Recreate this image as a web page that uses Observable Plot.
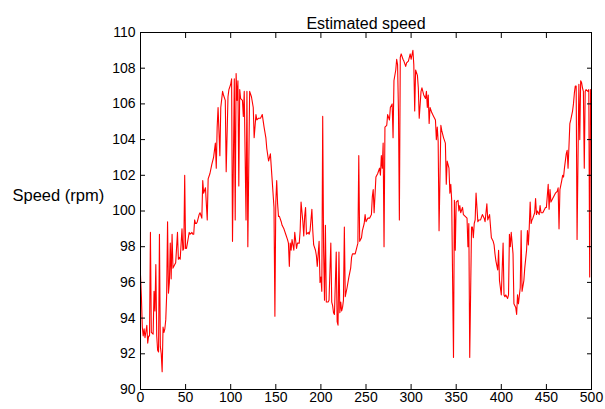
<!DOCTYPE html>
<html><head><meta charset="utf-8">
<script src="https://cdn.jsdelivr.net/npm/d3@7"></script>
<script src="https://cdn.jsdelivr.net/npm/@observablehq/plot@0.6"></script>
<style>html,body{margin:0;padding:0;background:#fff}</style>
</head><body><div id="chart"></div>
<script>
const sampleIdx = [
0,1,2,3,4,5,7,8,9,10,11,12,14,15,16,17,18,19,20,21,22,23,24,25,26,27,28,29,30,31,32,33,34,35,36,37,38,39,41,42,43,44,46,47,48,49,50,51,52,53,54,55,57,58,59,60,61,62,63,65,66,
68,69,70,72,74,75,77,79,81,83,84,85,86,88,89,91,92,94,95,97,98,100,101,102,104,105,106,107,108,109,110,111,113,114,115,117,118,119,121,123,125,126,128,129,131,133,
134,135,137,139,140,142,144,146,148,149,150,151,152,153,154,156,157,159,161,163,164,165,166,167,168,170,171,173,174,176,177,178,180,181,182,183,184,186,187,188,190,191,192,194,195,196,198,199,200,201,202,203,204,205,206,208,209,211,212,213,214,215,217,218,219,220,221,
222,223,224,225,226,227,229,231,233,234,235,238,239,241,242,243,245,246,248,249,250,252,254,256,257,258,259,
261,263,265,266,267,268,269,270,271,273,274,276,277,279,280,281,283,284,285,286,287,288,289,291,292,294,295,297,299,300,302,303,304,305,307,308,309,311,312,314,316,317,318,319,320,321,323,325,327,328,329,330,331,
333,334,336,338,339,340,342,343,344,345,347,348,349,350,352,353,354,355,357,358,360,362,363,364,365,367,368,369,370,371,372,374,375,377,379,381,382,384,385,387,389,391,392,393,394,396,397,398,
400,402,403,404,405,407,408,409,410,411,413,414,416,417,418,419,421,422,423,425,426,428,429,430,431,432,433,434,435,437,438,439,440,442,443,444,446,447,449,
450,452,453,454,455,456,457,459,460,462,463,464,465,467,468,469,470,472,473,474,475,476,477,479,480,481,482,483,484,486,487,488,489,490,491,492,493,494,496,497,498,499];
const speedRpm = [
96.4,95.2,93.5,93.0,93.4,92.9,93.6,92.6,93.0,93.0,98.8,93.2,93.1,95.5,94.4,97.0,93.0,92.2,92.1,98.7,92.4,92.0,91.0,93.5,93.2,93.4,93.9,95.3,99.4,95.4,96.0,98.2,96.2,98.7,96.8,96.9,97.0,97.1,98.8,97.3,97.4,97.3,99.0,97.8,97.9,102.0,97.9,97.9,98.2,98.5,98.8,98.7,98.8,98.7,98.7,99.5,99.3,99.3,99.4,99.8,99.9,
99.6,101.7,101.0,101.3,99.5,101.8,102.1,102.6,103.0,103.8,102.4,104.7,105.8,103.1,105.8,106.7,106.5,106.2,102.2,106.4,106.8,107.1,107.4,98.3,107.4,99.5,107.7,106.2,107.3,101.4,106.8,106.3,106.2,105.3,106.7,99.5,106.7,98.0,106.7,106.4,105.8,104.1,105.4,105.1,105.2,105.2,
105.3,105.4,104.7,104.1,103.5,102.8,103.2,101.7,100.2,94.1,100.5,101.7,100.4,99.7,99.7,99.4,99.2,99.0,98.7,98.4,98.2,96.9,98.2,97.8,98.4,97.8,98.8,97.9,98.2,98.2,98.9,100.5,99.4,98.6,99.7,100.2,98.7,98.8,98.7,98.9,100.1,98.9,98.1,97.8,97.5,96.9,98.3,96.0,96.3,95.5,105.3,97.8,95.0,99.2,94.9,94.9,95.0,98.2,94.9,94.7,94.3,94.2,97.7,93.8,93.6,97.7,94.3,
94.9,94.4,94.6,95.0,99.1,95.2,95.7,96.3,96.8,97.4,97.6,97.6,97.8,98.2,103.1,98.3,98.5,98.9,99.3,99.8,99.4,99.6,99.6,99.8,100.8,101.2,99.9,
101.9,102.1,102.4,102.0,103.1,102.4,103.8,98.0,104.7,104.8,105.4,105.1,105.8,106.0,104.1,107.3,107.9,108.5,108.2,105.6,99.5,108.6,108.8,108.5,108.4,108.1,108.3,108.4,108.8,108.5,109.0,108.2,105.6,107.9,107.6,106.9,105.2,106.7,106.9,106.5,106.3,106.7,105.8,106.5,104.9,105.8,105.5,105.3,105.1,104.0,104.7,103.9,98.9,
104.8,104.5,104.1,103.8,101.5,102.8,102.4,101.0,101.5,100.6,91.8,100.6,97.8,100.5,100.6,100.0,100.3,99.9,100.2,99.8,99.7,99.6,98.0,99.3,91.8,99.1,99.1,98.5,99.3,99.5,101.0,99.4,99.5,99.5,99.8,99.6,99.4,100.4,99.5,99.8,98.5,98.3,98.1,97.6,97.2,96.7,97.8,96.1,
95.3,98.2,95.3,95.2,95.3,95.1,95.3,98.7,98.0,98.8,97.6,94.8,94.6,94.2,95.3,94.8,95.7,98.9,95.5,96.1,96.8,97.8,98.9,98.1,99.1,100.5,99.3,99.5,99.6,99.9,100.7,99.8,100.0,99.8,100.3,99.9,99.9,100.0,100.2,
100.2,101.5,100.1,101.2,100.5,100.6,100.7,100.9,101.0,101.1,101.3,99.0,101.2,101.7,102.0,101.9,102.4,103.2,103.4,102.4,103.6,104.9,105.1,105.6,106.0,106.6,107.0,107.0,98.4,107.1,104.0,107.3,107.2,106.9,106.7,102.4,106.7,106.8,106.7,106.8,96.3,106.8];
const xTicks = [0,50,100,150,200,250,300,350,400,450,500];
const yTicks = [90,92,94,96,98,100,102,104,106,108,110];
const titleText = "Estimated speed";
const yLabelText = "Speed (rpm)";

const data = sampleIdx.map((s, i) => ({sample: s, speed: speedRpm[i]}));
const blank = () => "";

const chart = Plot.plot({
  width: 605, height: 409,
  marginLeft: 140, marginRight: 14, marginTop: 32, marginBottom: 20,
  style: {fontFamily: "'Liberation Sans', Arial, sans-serif", fontSize: "14px", color: "black", background: "white", overflow: "visible"},
  x: {domain: [0, 500]},
  y: {domain: [90, 110]},
  marks: [
    Plot.line(data, {x: "sample", y: "speed", stroke: "red", strokeWidth: 1.1}),
    Plot.frame({stroke: "black", strokeWidth: 1}),
    Plot.axisX({anchor: "bottom", ticks: xTicks, tickSize: -5, tickPadding: 8, label: null, fontSize: 14}),
    Plot.axisX({anchor: "top", ticks: xTicks, tickSize: -5, tickFormat: blank, label: null}),
    Plot.axisY({anchor: "left", ticks: yTicks, tickSize: -5, tickPadding: 10, label: null, fontSize: 14}),
    Plot.axisY({anchor: "right", ticks: yTicks, tickSize: -5, tickFormat: blank, label: null}),
    Plot.text([titleText], {text: d => d, frameAnchor: "top", dy: -15, fontSize: 16}),
    Plot.text([yLabelText], {text: d => d, frameAnchor: "left", dx: -128, dy: -15, textAnchor: "start", fontSize: 16.5})
  ]
});
document.getElementById("chart").appendChild(chart);
</script>
</body></html>
